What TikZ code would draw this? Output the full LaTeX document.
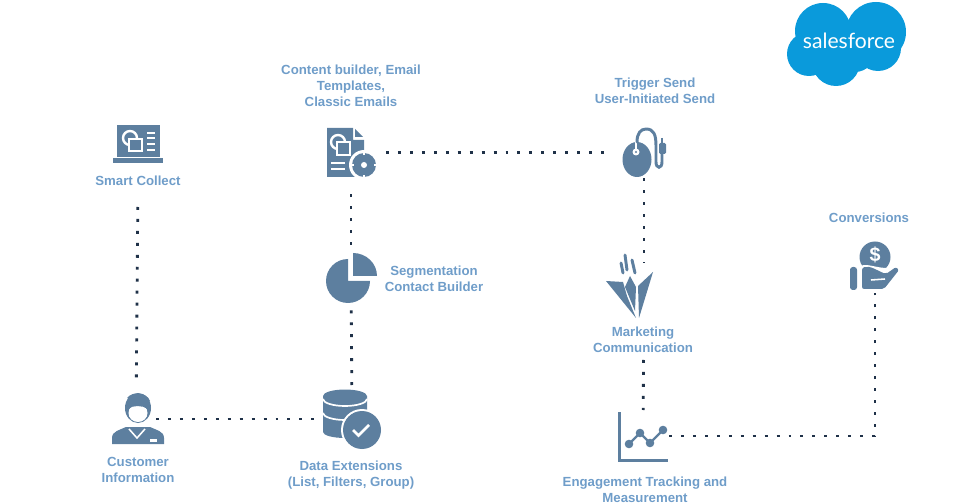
\documentclass[tikz,border=0pt]{standalone}
\usepackage{fontspec}
\setmainfont{Liberation Sans}
\newfontfamily\logofont{Lato}
\definecolor{iconblue}{HTML}{5D7F9F}
\definecolor{labelblue}{HTML}{6F9DC9}
\definecolor{dotnavy}{HTML}{1F3148}
\definecolor{cloudblue}{HTML}{0A9ADB}
\tikzset{
    label text/.style={text=labelblue, font=\fontsize{9.4}{11.3}\selectfont\bfseries, align=center, inner sep=0pt},
    iconbox/.style={inner sep=0pt, outer sep=0pt, minimum size=0pt},
    dotline/.style={dotnavy, line width=2pt, dash pattern=on 2.1pt off 6.4pt},
    gap/.style 2 args={shorten <=#1*0.025cm, shorten >=#2*0.025cm},
    whiteline/.style={white, line width=1.7pt},
    iconline/.style={iconblue, line width=2.1pt, line cap=round}
}
\begin{document}
\begin{tikzpicture}[x=0.025cm, y=-0.025cm]
    \useasboundingbox (0,0) rectangle (960,504);

    % Logo
    \fill[cloudblue] (823,31) circle (28);
    \fill[cloudblue] (876,32) circle (30);
    \fill[cloudblue] (850,42) circle (22);
    \fill[cloudblue] (878,48) circle (23);
    \fill[cloudblue] (855,52) circle (20);
    \fill[cloudblue] (836,62) circle (24);
    \fill[cloudblue] (809,54) circle (22);
    \node[text=white, font=\logofont\fontsize{15}{18}\selectfont, inner sep=0pt] (logotext) at (849,41) {salesforce};

    % Labels
    \node[label text] (collecttext) at (138,181) {Smart Collect};
    \node[label text] (contenttext) at (351,86) {Content builder, Email\\Templates,\\Classic Emails};
    \node[label text] (triggertext) at (655,91) {Trigger Send\\User-Initiated Send};
    \node[label text] (segmenttext) at (434,279) {Segmentation\\Contact Builder};
    \node[label text] (converttext) at (869,218) {Conversions};
    \node[label text] (marketingtext) at (643,340) {Marketing\\Communication};
    \node[label text] (customertext) at (138,470) {Customer\\Information};
    \node[label text] (dataexttext) at (351,475.5) {Data Extensions\\(List, Filters, Group)};
    \node[label text] (engagetext) at (645,490) {Engagement Tracking and\\Measurement};

    % Connector ends
    \node[iconbox] (customer) at (136,419) {};
    \node[iconbox] (dataext) at (352,419) {};
    \node[iconbox] (segment) at (351,270) {};
    \node[iconbox] (content) at (351,152.5) {};
    \node[iconbox] (trigger) at (644,152.5) {};
    \node[iconbox] (marketing) at (644,290) {};
    \node[iconbox] (engage) at (643,436) {};
    \node[iconbox] (convert) at (875,270) {};

    % Connectors
    \draw[dotline, gap={26}{41}] (collecttext.center) -- (customer);
    \draw[dotline, gap={20}{37}] (customer) -- (dataext);
    \draw[dotline, gap={34}{35}] (dataext) -- (segment);
    \draw[dotline, gap={25}{41}] (segment) -- (content);
    \draw[dotline, gap={35}{39}] (content) -- (trigger);
    \draw[dotline, gap={26}{27}] (trigger) -- (marketing);
    \draw[dotline, gap={70}{26}] (marketing) -- (engage);
    \draw[dotline, gap={26}{23}] (engage) -| (convert);

    % Smart Collect laptop
    \fill[iconblue] (117,125) rectangle (160,157);
    \fill[iconblue] (113,158) rectangle (163,163);
    \draw[whiteline] (130,138) circle (7);
    \fill[iconblue] (129,139) rectangle (142,151);
    \draw[whiteline] (129,139) rectangle (142,151);
    \foreach \y in {133,138,144,150}
        \fill[white] (147,\y-1.2) rectangle (155,\y+1.2);

    % Content document with gear
    \fill[iconblue] (327,128) -- (353,128) -- (353,140) -- (364,140) -- (364,177) -- (327,177) -- cycle;
    \fill[iconblue] (355,129) -- (363,137) -- (355,137) -- cycle;
    \draw[whiteline] (338,142) circle (7);
    \fill[iconblue] (337,142) rectangle (350,155);
    \draw[whiteline] (337,142) rectangle (350,155);
    \fill[white] (331,162) rectangle (345,164.5);
    \fill[white] (331,168) rectangle (345,170.5);
    \fill[white] (364,165) circle (15);
    \fill[iconblue] (364,165) circle (12);
    \foreach \a in {0,90,180,270}
        \fill[white, rotate around={\a:(364,165)}] (362.8,151) rectangle (365.2,155);
    \fill[white] (364,165) circle (3);

    % Segmentation pie
    \fill[iconblue] (348,259) arc (-90:-360:22) -- (348,281) -- cycle;
    \fill[iconblue] (353,276) -- (353,253) arc (-90:0:24 and 23) -- cycle;

    % Trigger mouse
    \fill[iconblue] (637,159.5) ellipse (14.5 and 17.5);
    \fill[white] (636,152) circle (3.5);
    \draw[white, line width=1.1pt] (636,142) -- (636,152);
    \fill[iconblue] (636,152) circle (1.2);
    \draw[iconline] (637,142) .. controls (637,133) and (641,129) .. (646,129)
        .. controls (654,129) and (656,135) .. (656,146)
        -- (656,162) .. controls (656,169) and (662,169) .. (662,162) -- (662,153);
    \fill[iconblue, rounded corners=1pt] (659,143) rectangle (666,154);
    \draw[iconblue, line width=1.7pt] (662,138) -- (662,143);

    % Marketing blades
    \fill[iconblue] (606,281) -- (623,282) -- (627,296) -- (636,318) -- cycle;
    \fill[iconblue] (630,276) -- (636,287) -- (635,311) -- (625,287) -- cycle;
    \fill[iconblue] (653,272) -- (639,318) -- (638,286) -- cycle;
    \draw[iconline] (621,263) -- (623,273);
    \draw[iconline] (625,255) -- (627,270);
    \draw[iconline] (632,260) -- (635,273);

    % Customer
    \fill[iconblue] (138,408) ellipse (13 and 15);
    \fill[iconblue] (127,398) .. controls (132,391) and (147,392) .. (150,401) -- (140,404) -- cycle;
    \fill[white] (138,413) ellipse (9.5 and 9);
    \fill[iconblue] (128,409) .. controls (133,405) and (142,405) .. (148,409) -- (148,398) -- (128,398) -- cycle;
    \fill[iconblue] (112,444) -- (112,438) .. controls (112,431) and (120,430) .. (126,427)
        -- (150,427) .. controls (156,430) and (164,431) .. (164,438) -- (164,444) -- cycle;
    \draw[white, line width=1.1pt] (129,429) -- (137,438) -- (145,429);
    \fill[white] (150,439) rectangle (157,441.5);

    % Data extensions cylinder
    \fill[iconblue] (323,396) -- (323,432) arc (180:0:22 and 6) -- (367,396) -- cycle;
    \fill[iconblue] (345,396) ellipse (22 and 6.5);
    \draw[white, line width=1.2pt] (323,399) arc (180:0:22 and 7);
    \draw[white, line width=1.2pt] (323,413) arc (180:0:22 and 7);
    \fill[white] (362,430) circle (21);
    \fill[iconblue] (362,430) circle (19);
    \draw[white, line width=1.9pt] (353,430) -- (358.5,435.5) -- (369,425);

    % Engagement chart
    \draw[iconblue, line width=2pt] (619.5,412) -- (619.5,460.5) -- (668,460.5);
    \draw[iconblue, line width=1.6pt] (629,444) -- (640,433) -- (650,443) -- (663,430);
    \foreach \px/\py in {629/444,640/433,650/443,663/430}
        \fill[iconblue] (\px,\py) circle (4.3);

    % Conversions hand and coin
    \fill[iconblue] (875,257) circle (15.5);
    \node[text=white, font=\fontsize{14}{14}\selectfont\bfseries, inner sep=0pt] (dollar) at (875,255) {\$};
    \fill[iconblue, rounded corners=2pt] (850,267) rectangle (857,290);
    \fill[white] (860,266) .. controls (870,262) and (880,272) .. (900,266) -- (900,274) -- (860,274) -- cycle;
    \fill[iconblue, rounded corners=1.5pt] (862,268) .. controls (870,265) and (878,271) .. (886,274)
        -- (896,267) -- (899,270) -- (884,289) -- (862,289) -- cycle;
    \draw[white, line width=1.1pt] (871,280) -- (885,279);
\end{tikzpicture}
\end{document}
